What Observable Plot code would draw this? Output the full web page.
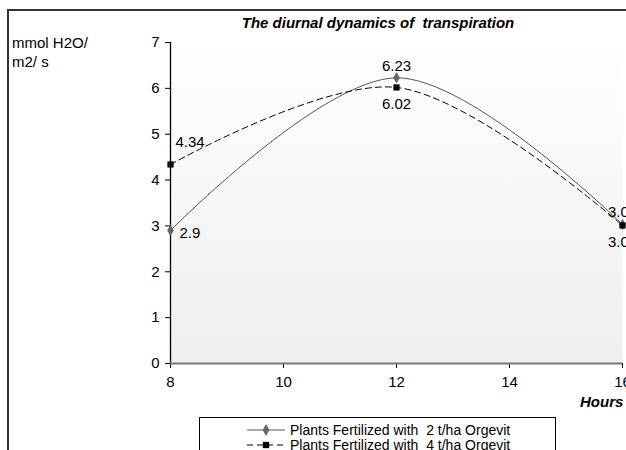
<!DOCTYPE html>
<html><head><meta charset="utf-8">
<script src="https://cdn.jsdelivr.net/npm/d3@7"></script>
<script src="https://cdn.jsdelivr.net/npm/@observablehq/plot@0.6"></script>
<style>
body{margin:0;background:#fff;font-family:"Liberation Sans",Arial,sans-serif;}
#wrap{position:relative;width:626px;height:450px;overflow:hidden;}
text{white-space:pre;}
</style></head>
<body><div id="wrap"></div>
<script>
const hours = [8, 12, 16];
const series1Name = "Plants Fertilized with  2 t/ha Orgevit";
const series2Name = "Plants Fertilized with  4 t/ha Orgevit";
const series1 = [2.9, 6.23, 3.03];
const series2 = [4.34, 6.02, 3.01];
const labels1 = ["2.9", "6.23", "3.03"];
const labels2 = ["4.34", "6.02", "3.01"];
const xTicks = [8, 10, 12, 14, 16];
const yTicks = [0, 1, 2, 3, 4, 5, 6, 7];

const d1 = hours.map((h, i) => ({h, v: series1[i], l: labels1[i]}));
const d2 = hours.map((h, i) => ({h, v: series2[i], l: labels2[i]}));

const W = 626, H = 450;
const FS = 15;
const plot = Plot.plot({
  width: W, height: H,
  marginLeft: 170, marginRight: 4, marginTop: 42, marginBottom: 87,
  style: {fontFamily: '"Liberation Sans", Arial, sans-serif', fontSize: FS + "px", color: "#000", background: "transparent"},
  x: {domain: [8, 16], label: null},
  y: {domain: [0, 7], label: null},
  marks: [
    Plot.frame({fill: "url(#bgGrad)", stroke: null}),
    Plot.axisY({ticks: yTicks, tickFormat: d => String(d), tickSize: 5, tickPadding: 6, label: null, stroke: "#000", fontSize: FS}),
    Plot.axisX({ticks: xTicks, tickFormat: d => String(d), tickSize: 5, tickPadding: 8, label: null, stroke: "#000", fontSize: FS}),
    Plot.ruleX([8], {stroke: "#000", strokeWidth: 1.3}),
    Plot.ruleY([0], {stroke: "#777", strokeWidth: 2}),
    Plot.line(d1, {x: "h", y: "v", curve: "catmull-rom", stroke: "#555", strokeWidth: 1}),
    Plot.line(d2, {x: "h", y: "v", curve: "catmull-rom", stroke: "#000", strokeWidth: 1, strokeDasharray: "6,4"}),
    Plot.dot(d1, {x: "h", y: "v", symbol: "diamond", r: 3.5, fill: "#666", stroke: "none"}),
    Plot.dot(d2, {x: "h", y: "v", symbol: "square", r: 3.5, fill: "#000", stroke: "none"}),
    Plot.text([d1[0]], {x: "h", y: "v", text: "l", dx: 9, dy: 3, textAnchor: "start", fontSize: FS}),
    Plot.text(d1.slice(1), {x: "h", y: "v", text: "l", dy: -12, textAnchor: "middle", fontSize: FS}),
    Plot.text([d2[0]], {x: "h", y: "v", text: "l", dx: 5, dy: -22, textAnchor: "start", fontSize: FS}),
    Plot.text(d2.slice(1), {x: "h", y: "v", text: "l", dy: 17, textAnchor: "middle", fontSize: FS})
  ]
});
const svg = d3.select(plot);
const defs = svg.insert("defs", ":first-child");
const g = defs.append("linearGradient").attr("id", "bgGrad").attr("x1", 0).attr("y1", 0).attr("x2", 0).attr("y2", 1);
g.append("stop").attr("offset", "0%").attr("stop-color", "#ffffff");
g.append("stop").attr("offset", "100%").attr("stop-color", "#eeeeee");
plot.style.position = "absolute"; plot.style.left = "0px"; plot.style.top = "0px";
const wrap = document.getElementById("wrap");
wrap.appendChild(plot);

// overlay: border, title, labels, legend
const ov = d3.select(wrap).append("svg").attr("width", W).attr("height", H)
  .style("position", "absolute").style("left", "0px").style("top", "0px");
const F = s => `${s}px "Liberation Sans", Arial, sans-serif`;
ov.append("path").attr("d", `M8,${H} L8,10 L${W},10`).attr("fill", "none").attr("stroke", "#333").attr("stroke-width", 2);
ov.append("text").attr("x", 378).attr("y", 28).attr("text-anchor", "middle").attr("xml:space", "preserve")
  .style("font", "italic bold " + F(FS)).text("The diurnal dynamics of  transpiration");
ov.append("text").attr("x", 12).attr("y", 48).style("font", F(FS)).text("mmol H2O/");
ov.append("text").attr("x", 12).attr("y", 67).style("font", F(FS)).text("m2/ s");
ov.append("text").attr("x", 580).attr("y", 407).style("font", "italic bold " + F(FS)).text("Hours");
// legend
ov.append("rect").attr("x", 199.5).attr("y", 417.5).attr("width", 356).attr("height", 60).attr("fill", "#fff").attr("stroke", "#000");
const leg = [
  {name: series1Name, dash: null, color: "#555", sym: d3.symbolDiamond, fill: "#666", y: 430},
  {name: series2Name, dash: "6,4", color: "#000", sym: d3.symbolSquare, fill: "#000", y: 445}
];
leg.forEach(s => {
  ov.append("line").attr("x1", 247).attr("x2", 285).attr("y1", s.y).attr("y2", s.y)
    .attr("stroke", s.color).attr("stroke-dasharray", s.dash);
  ov.append("path").attr("d", d3.symbol(s.sym, 40)()).attr("transform", `translate(266,${s.y})`).attr("fill", s.fill);
  ov.append("text").attr("x", 290).attr("y", s.y + 5).attr("xml:space", "preserve")
    .style("font", F(14)).text(s.name);
});
</script></body></html>
